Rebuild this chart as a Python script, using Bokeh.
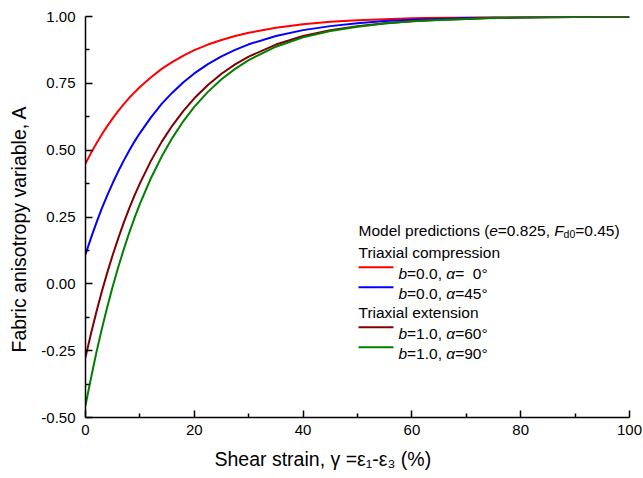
from bokeh.plotting import figure
from bokeh.models import Range1d, FixedTicker, Label, Arrow, Title
from bokeh.embed import file_html
from bokeh.resources import INLINE

# ---------------- data ----------------
strain = [0, 1, 2, 3, 4, 5, 6, 7, 8, 9, 10, 12, 14, 16, 18, 20, 22.5, 25, 27.5, 30,
          35, 40, 45, 50, 55, 60, 65, 70, 75, 80, 85, 90, 95, 100]
A_b0_a0 = [0.45, 0.489, 0.525, 0.559, 0.590, 0.619, 0.646, 0.671, 0.695, 0.716, 0.736,
           0.772, 0.804, 0.830, 0.854, 0.874, 0.895, 0.912, 0.927, 0.939,
           0.958, 0.971, 0.980, 0.986, 0.990, 0.993, 0.995, 0.997, 0.998, 0.998, 0.999, 0.999, 1.0, 1.0]
A_b0_a45 = [0.11, 0.171, 0.228, 0.282, 0.331, 0.377, 0.420, 0.460, 0.497, 0.532, 0.564,
            0.622, 0.673, 0.716, 0.754, 0.787, 0.822, 0.851, 0.875, 0.896,
            0.927, 0.949, 0.964, 0.975, 0.983, 0.988, 0.991, 0.994, 0.996, 0.997, 0.998, 0.999, 0.999, 0.999]
A_b1_a60 = [-0.275, -0.187, -0.105, -0.029, 0.042, 0.108, 0.169, 0.227, 0.280, 0.330, 0.376,
            0.459, 0.531, 0.593, 0.647, 0.694, 0.744, 0.786, 0.821, 0.850,
            0.895, 0.927, 0.949, 0.964, 0.975, 0.982, 0.988, 0.991, 0.995, 0.996, 0.997, 0.998, 0.999, 0.999]
A_b1_a90 = [-0.455, -0.353, -0.257, -0.169, -0.087, -0.010, 0.061, 0.127, 0.189, 0.246, 0.299,
            0.394, 0.476, 0.547, 0.609, 0.662, 0.718, 0.765, 0.804, 0.837,
            0.887, 0.922, 0.946, 0.962, 0.974, 0.982, 0.987, 0.991, 0.994, 0.996, 0.997, 0.998, 0.999, 0.999]

series_colors = ["#FF0000", "#0000FF", "#800000", "#008000"]

x_ticks = [0, 20, 40, 60, 80, 100]
x_minor = [10, 30, 50, 70, 90]
y_ticks = [-0.5, -0.25, 0.0, 0.25, 0.5, 0.75, 1.0]
y_minor = [-0.375, -0.125, 0.125, 0.375, 0.625, 0.875]
y_tick_labels = ["-0.50", "-0.25", "0.00", "0.25", "0.50", "0.75", "1.00"]

x_title = "Shear strain, \u03b3 =\u03b5\u2081-\u03b5\u2083 (%)"
y_title = "Fabric anisotropy variable, A"

# ---------------- layout ----------------
W, H = 643, 478
BL, BR, BT, BB = 84, 14, 16, 61
FW, FH = W - BL - BR, H - BT - BB
FONT = "Liberation Sans"

p = figure(width=W, height=H, x_range=Range1d(0, 100), y_range=Range1d(-0.5, 1.0),
           output_backend="svg", toolbar_location=None,
           min_border_left=BL, min_border_right=BR, min_border_top=BT, min_border_bottom=BB)
p.outline_line_color = None
p.xgrid.visible = False
p.ygrid.visible = False
p.background_fill_color = "white"
p.border_fill_color = "white"

p.xaxis.ticker = FixedTicker(ticks=x_ticks, minor_ticks=x_minor)
p.yaxis.ticker = FixedTicker(ticks=y_ticks, minor_ticks=y_minor)
p.yaxis.major_label_overrides = {t: s for t, s in zip(y_ticks, y_tick_labels)}
p.xaxis.major_label_overrides = {t: str(t) for t in x_ticks}

for ax in (p.xaxis[0], p.yaxis[0]):
    ax.axis_line_color = "black"
    ax.axis_line_width = 1.5
    ax.major_tick_line_color = "black"
    ax.major_tick_line_width = 1.5
    ax.minor_tick_line_color = "black"
    ax.minor_tick_line_width = 1.5
    ax.major_tick_in = 7
    ax.major_tick_out = 0
    ax.minor_tick_in = 4
    ax.minor_tick_out = 0
    ax.major_label_text_font = FONT
    ax.major_label_text_font_size = "15px"
    ax.major_label_text_color = "black"

p.xaxis.major_label_standoff = 7
p.yaxis.major_label_standoff = 10

# axis titles as side-panel titles (positioned with offsets)
p.add_layout(Title(text=x_title, align="left", offset=129, standoff=16, vertical_align="bottom",
                   text_font=FONT, text_font_size="19.5px", text_font_style="normal",
                   text_color="black"), "below")
p.add_layout(Title(text=y_title, align="left", offset=65, standoff=14, vertical_align="top",
                   text_font=FONT, text_font_size="19.5px", text_font_style="normal",
                   text_color="black"), "left")

for ys, c in zip([A_b0_a0, A_b0_a45, A_b1_a60, A_b1_a90], series_colors):
    p.line(strain, ys, line_color=c, line_width=2)

# ---------------- legend (page pixel -> data) ----------------
def dx(page_x):
    return (page_x - BL) / FW * 100.0

def dy(page_y):
    return 1.0 - (page_y - BT) / FH * 1.5

CW = {' ': 278, '(': 333, ')': 333, ',': 278, '-': 333, '.': 278, '=': 584, '\u00b0': 400,
      '\u03b1': 579, '\u00a0': 278, 'F': 611, 'M': 833, 'T': 611}
for ch in "0123456789abdenop":
    CW[ch] = 556
CW.update({'c': 500, 'i': 222, 'l': 222, 'm': 833, 'r': 333, 's': 500, 't': 278, 'x': 500})

def text_width(s, size):
    return sum(CW.get(ch, 556) for ch in s) * size / 1000.0

def runs(page_x, page_y, parts, size=15.5, sub_size=10.5, sub_drop=3.5):
    pos = 0.0
    for txt, style in parts:
        sz = size
        off = 0.0
        fstyle = "normal"
        if style == "i":
            fstyle = "italic"
        elif style == "sub":
            sz = sub_size
            off = sub_drop
        p.add_layout(Label(x=dx(page_x + pos), y=dy(page_y + off), text=txt, text_font=FONT,
                           text_font_size=f"{sz}px", text_font_style=fstyle,
                           text_color="black", text_align="left", text_baseline="alphabetic"))
        pos += text_width(txt, sz)

LX = 357.5
runs(LX, 230, [("Model predictions (", "n"), ("e", "i"), ("=0.825, ", "n"), ("F", "i"),
               ("d0", "sub"), ("=0.45)", "n")])
runs(LX, 252.3, [("Triaxial compression", "n")])
runs(LX, 311.8, [("Triaxial extension", "n")])

items = [
    (266.7, series_colors[0], "=0.0, ", "=\u00a0\u00a00\u00b0"),
    (286.7, series_colors[1], "=0.0, ", "=45\u00b0"),
    (326.7, series_colors[2], "=1.0, ", "=60\u00b0"),
    (346.7, series_colors[3], "=1.0, ", "=90\u00b0"),
]
for ly, col, bpart, apart in items:
    p.add_layout(Arrow(x_start=dx(LX), y_start=dy(ly), x_end=dx(LX + 35), y_end=dy(ly),
                       start=None, end=None, line_color=col, line_width=2))
    runs(LX + 40, ly + 5.8, [("b", "i"), (bpart, "n"), ("\u03b1", "i"), (apart, "n")])

open("out.html", "w").write(file_html(p, INLINE))
